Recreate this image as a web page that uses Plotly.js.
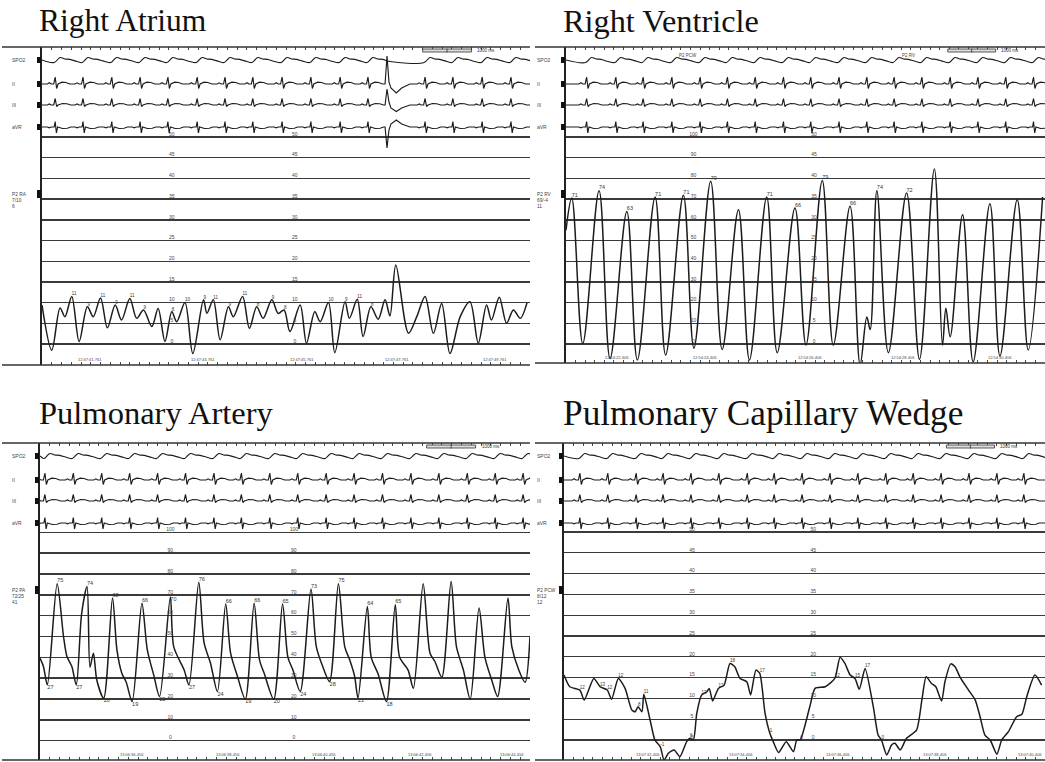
<!DOCTYPE html>
<html><head><meta charset="utf-8">
<script src="https://cdn.plot.ly/plotly-3.0.1.min.js"></script>
<style>html,body{margin:0;padding:0;background:#fff}#chart{width:1045px;height:762px}</style>
</head><body><div id="chart"></div>
<script>
// ================= DATA =================
const panelTitles = ["Right Atrium", "Right Ventricle", "Pulmonary Artery", "Pulmonary Capillary Wedge"];
const leadNames = ["SPO2", "II", "III", "aVR"];
const channelLabels = ["P2 RA<br>7/10<br>6", "P2 RV<br>69/-4<br>11", "P2 PA<br>72/25<br>41", "P2 PCW<br>8/12<br>12"];

// Pressure waveforms: time (s) and pressure (mmHg)
const raT = [0.00,0.20,0.37,0.47,0.61,0.76,0.93,1.05,1.20,1.34,1.50,1.63,1.80,1.94,2.08,2.25,2.38,2.52,2.66,2.76,2.93,3.09,3.31,3.38,3.51,3.65,3.82,3.92,4.11,4.25,4.40,4.53,4.71,4.84,4.96,5.08,5.29,5.42,5.59,5.70,5.87,6.00,6.21,6.30,6.46,6.58,6.74,6.89,7.03,7.13,7.25,7.51,7.68,7.85,8.02,8.19,8.36,8.57,8.77,8.94,9.11,9.21,9.37,9.52,9.66,9.80,9.94];
const raP = [9.4,-1.5,8.7,6.6,11.5,0.6,9,6.6,11.1,3.9,9.4,5.8,11,6.2,8.2,4.2,8.6,0.6,7.8,5.4,10,-2.3,10.7,7.4,10.7,1,9,6.6,11.5,3.8,9,6.2,10.7,7.4,8.2,3,9.4,0.2,7.8,5.4,10,-2.1,10.2,6.2,10.8,1.8,9,6,10.7,6.8,19.1,2.6,6.6,11.5,2.6,9.8,-2.3,6.6,10.2,0.2,9.4,5.8,11.3,5,8.2,6.2,10];

const rvT = [0.00,0.12,0.35,0.69,0.92,1.27,1.49,1.86,2.08,2.45,2.67,3.02,3.26,3.60,3.83,4.19,4.41,4.78,5.01,5.35,5.58,5.93,6.14,6.28,6.35,6.49,6.73,7.11,7.38,7.69,7.86,7.93,8.02,8.28,8.50,8.85,9.06,9.42,9.65,9.95];
const rvP = [55,70.5,0.3,74,-7,64,-7.7,71,-5.3,71.8,-2,78.6,-2.6,64.9,-7.7,71,-4.2,65.7,-0.5,79,-0.5,66.5,-10,13,7,74,-4.2,73,-7.4,84.6,-0.5,17.3,3.5,62.5,-8.6,67.8,-5.8,69.7,-2.9,71];

const paT = [0.00,0.07,0.15,0.35,0.48,0.55,0.65,0.74,0.85,0.96,1.02,1.09,1.16,1.30,1.48,1.57,1.67,1.76,1.88,2.08,2.19,2.32,2.44,2.66,2.73,2.94,3.04,3.24,3.35,3.48,3.62,3.79,3.89,4.03,4.19,4.37,4.48,4.58,4.77,4.95,5.06,5.16,5.31,5.53,5.64,5.77,5.91,6.09,6.22,6.32,6.42,6.49,6.68,6.76,6.90,7.07,7.25,7.34,7.51,7.62,7.82,7.96,8.06,8.20,8.39,8.50,8.64,8.78,8.96,9.08,9.22,9.34,9.55,9.63,9.77,9.90,10.0];
const paP = [39.6,35.6,26.8,75.3,50,40.4,35.6,26.8,61,74,35.3,42,29,20.4,68.5,43.6,32.4,28,18.8,66,43.6,31.6,21.2,69,45,34,26.8,76,46.8,37.2,23.6,65.6,42,30.8,19.9,66,38.8,32,19.9,65.6,40,34,23.6,72.8,45,35.6,28.4,75.3,45,38.8,31,20.4,64.4,40,32,18.8,65.2,40,34,25.2,75.3,42,38,30.5,76.4,45,34,19.9,63.7,40,29,21.2,68.5,45,34,28,50];

const pcwT = [0.00,0.12,0.33,0.42,0.62,0.75,0.90,0.99,1.13,1.27,1.41,1.48,1.54,1.62,1.66,1.79,1.89,2.00,2.08,2.17,2.29,2.41,2.55,2.62,2.69,2.76,2.86,2.97,3.02,3.09,3.21,3.33,3.45,3.55,3.66,3.80,3.88,3.99,4.07,4.18,4.28,4.35,4.46,4.62,4.77,4.84,4.91,5.11,5.22,5.43,5.63,5.74,5.84,5.95,6.05,6.14,6.26,6.43,6.53,6.60,6.71,6.81,6.88,6.99,7.12,7.33,7.44,7.53,7.64,7.73,7.85,7.92,8.04,8.13,8.23,8.41,8.55,8.65,8.75,8.86,9.00,9.10,9.24,9.41,9.52,9.62,9.79,9.93];
const pcwP = [15.6,12.8,12,9.6,14.8,12.8,12,9.8,14.8,12.4,7.2,6.8,8,6.8,11,4.8,0,-1.6,-4.8,-3.2,-2.4,-4,-0.4,0.4,0,6.4,10.8,11.6,12.4,9.4,12.4,13.2,18.4,17.6,14.8,14,10.8,16.8,16,6.4,1.6,-0.4,-3,-0.4,-2.8,0,0,8,12.4,12.8,14.8,19.9,18.4,15.6,14.8,12.2,17.2,8,1.2,0,-3.6,-1.2,-0.8,-2.4,0.4,2.4,9.6,15.2,13.6,12.8,9.4,14,18.3,17.6,15.2,12,9.6,5.6,1.2,0,-3.4,0,2,5.6,6.2,10.4,15.6,13.2];

// ECG beat (QRS) times (s)
const raBeats  = [0.27,0.84,1.43,2.01,2.58,3.18,3.75,4.32,4.92,5.51,6.11,6.68,7.85,8.42,9.02,9.61];
const raPvcBeats = [7.07];
const rvBeats  = [0.43,1.04,1.61,2.21,2.80,3.37,3.95,4.54,5.11,5.70,6.28,6.85,7.43,8.02,8.60,9.18,9.76];
const paBeats  = [0.10,0.68,1.26,1.83,2.40,2.97,3.55,4.11,4.69,5.26,5.84,6.41,6.99,7.57,8.14,8.72,9.29,9.86];
const pcwBeats = [0.33,0.91,1.50,2.06,2.64,3.22,3.81,4.37,4.95,5.53,6.11,6.69,7.26,7.84,8.42,9.00,9.56];

// Beat morphology read from the strips (time from QRS in s, deflection)
const spo2Dt  = [-0.02, 0.10, 0.20, 0.30, 0.45];
const spo2Amp = [-2.5, 2.5, 1.0, 0.6, -1.5];
const iiDt  = [-0.16,-0.12,-0.08,-0.03,0.00,0.03,0.06,0.14,0.22,0.30];
const iiAmp = [0, 1.2, 0, 0, 7, -4.5, 0, 1.8, 1.5, 0];
const iiiDt  = [-0.16,-0.12,-0.08,-0.03,0.00,0.03,0.06,0.15,0.24,0.32];
const iiiAmp = [0, 1, 0, 0, 6.5, -1.5, 0, 1.5, 1.2, 0];
const avrDt  = [-0.16,-0.12,-0.08,-0.02,0.00,0.025,0.05,0.15,0.25,0.32];
const avrAmp = [0, -0.8, 0, 0, 5.5, -6, 0, -1.5, -1.2, 0];
const pvcDt     = [-0.04, 0.00, 0.04, 0.08, 0.19, 0.30, 0.47];
const pvcIIAmp  = [0, 28, 2, -4, -9, -4, 0];
const pvcIIIAmp = [0, 16, 3, -3, -6.5, -3, 0];
const pvcAvrAmp = [0, -21, -3, 3, 7, 3, 0];

// Scale (grid) values and the two printed label columns
const scale50  = [0,5,10,15,20,25,30,35,40,45,50];
const scale100 = [0,10,20,30,40,50,60,70,80,90,100];
const scaleLabelT = [2.66, 5.18];

// Printed peak / trough values
const raPeakText   = ["","11","9","11","9","11","9","","8","10","9","11","9","11","8","9","8","","","10","9","11","8"];
const rvPeakText   = ["71","74","63","71","71","79","","71","66","79","66","74","72"];
const paPeakText   = ["75","74","68","66","70","76","66","66","65","73","75","64","65"];
const paTroughText = ["27","27","20","19","22","27","24","19","20","24","28","21","18"];
const pcwMarkIdx   = [2,5,6,8,12,14,17,23,26,30,32,38,40,46,50,54,56,59];
const pcwMarkText  = ["12","13","12","12","8","11","-1","6","13","13","18","17","1","0","12","15","17","0"];

// Time-stamp labels on the bottom rulers
const raTimeT  = [0.98,3.30,5.32,7.27,9.28];
const raTimeText  = ["12:47:41.761","12:47:43.761","12:47:45.761","12:47:47.761","12:47:49.761"];
const rvTimeT  = [1.06,2.90,5.09,7.04,9.06];
const rvTimeText  = ["12:54:22.406","12:54:24.406","12:54:26.406","12:54:28.406","12:54:30.406"];
const paTimeT  = [1.88,3.83,5.80,7.75,9.63];
const paTimeText  = ["13:06:36.456","13:06:38.456","13:06:40.456","13:06:42.456","13:06:44.456"];
const pcwTimeT = [1.75,3.69,5.70,7.71,9.69];
const pcwTimeText = ["13:07:32.406","13:07:34.406","13:07:36.406","13:07:38.406","13:07:40.406"];

// ================= LAYOUT GEOMETRY (pixels) =================
const W = 1045, H = 762;
const geo = [
  {left:42,  right:530,  top:47,  bottom:365, gridTop:137,   zero:344,   frameLeft:2,   labelX:10,  titleX:37,  titleY:21,  titleSize:31.5, bar:7.80},
  {left:566, right:1045, top:47,  bottom:363, gridTop:137,   zero:344,   frameLeft:535, labelX:535, titleX:561, titleY:21,  titleSize:32.3, bar:7.97},
  {left:40,  right:530,  top:443, bottom:760, gridTop:532.3, zero:740.7, frameLeft:2,   labelX:10,  titleX:37,  titleY:413, titleSize:32.5, bar:7.89},
  {left:564, right:1045, top:443, bottom:760, gridTop:532,   zero:740,   frameLeft:535, labelX:535, titleX:561, titleY:413, titleSize:35.3, bar:7.95}
];
const laneOff = [13, 37, 58, 80];
const INK = '#1c1c1c';
const px = v => v / W;
const py = v => 1 - v / H;

function buildLane(beats, dt, amp, extraBeats, extraDt, extraAmp) {
  const ev = beats.map(b => ({b, dt, amp}));
  if (extraBeats) extraBeats.forEach(b => ev.push({b, dt: extraDt, amp: extraAmp}));
  ev.sort((a, c) => a.b - c.b);
  const x = [], y = [];
  ev.forEach(e => e.dt.forEach((d, i) => { x.push(+(e.b + d).toFixed(3)); y.push(e.amp[i]); }));
  if (x[0] > 0) { x.unshift(0); y.unshift(0); }
  if (x[x.length - 1] < 10) { x.push(10); y.push(0); }
  return {x, y};
}
function extrema(t, p, isPeak, thr, texts) {
  const xs = [], ys = [], tx = [];
  let k = 0;
  for (let i = 1; i < p.length - 1 && k < texts.length; i++) {
    const ok = isPeak ? (p[i] > p[i-1] && p[i] > p[i+1] && p[i] > thr)
                      : (p[i] < p[i-1] && p[i] < p[i+1] && p[i] < thr);
    if (ok) { if (texts[k]) { xs.push(t[i]); ys.push(p[i]); tx.push(texts[k]); } k++; }
  }
  return {xs, ys, tx};
}

const panelData = [
  {t: raT,  p: raP,  beats: raBeats,  pvc: raPvcBeats, scale: scale50,  lab1: scale50,  lab2: scale50,  smooth: 0.9, time: [raTimeT, raTimeText]},
  {t: rvT,  p: rvP,  beats: rvBeats,  pvc: null, scale: scale100, lab1: scale100, lab2: scale50,  smooth: 1.0, time: [rvTimeT, rvTimeText]},
  {t: paT,  p: paP,  beats: paBeats,  pvc: null, scale: scale100, lab1: scale100, lab2: scale100, smooth: 0.8, time: [paTimeT, paTimeText]},
  {t: pcwT, p: pcwP, beats: pcwBeats, pvc: null, scale: scale50,  lab1: scale50,  lab2: scale50,  smooth: 0.6, time: [pcwTimeT, pcwTimeText]}
];

const traces = [], shapes = [], annotations = [];
const layout = {
  width: W, height: H, margin: {l:0, r:0, t:0, b:0},
  paper_bgcolor: '#fff', plot_bgcolor: 'rgba(0,0,0,0)', showlegend: false,
  font: {family: 'Liberation Sans, Arial, sans-serif', color: '#333'}
};
const smallFont = {family: 'Liberation Sans, Arial, sans-serif', size: 5, color: '#444'};

geo.forEach((g, i) => {
  const n = i + 1;
  const xa = 'x' + (n === 1 ? '' : n), ya = 'y' + (n === 1 ? '' : n), ye = 'y' + (n + 4);
  const d = panelData[i];
  const smax = d.scale[d.scale.length - 1];
  const ppu = (g.zero - g.gridTop) / smax;
  const dom = [py(g.bottom), py(g.top)];

  layout['xaxis' + (n === 1 ? '' : n)] = {
    domain: [px(g.left), px(g.right)], range: [0, 10], anchor: ya,
    showgrid: false, zeroline: false, showline: false, showticklabels: false,
    ticks: 'inside', ticklen: 3, tickwidth: 1, tickcolor: '#444', tick0: 0, dtick: 0.2, mirror: 'ticks', fixedrange: true
  };
  layout['yaxis' + (n === 1 ? '' : n)] = {
    domain: dom, anchor: xa,
    range: [-(g.bottom - g.zero) / ppu, (g.zero - g.top) / ppu],
    tickmode: 'array', tickvals: d.scale, showgrid: true, gridcolor: '#3a3a3a', gridwidth: 1.4,
    showline: true, linecolor: '#222', linewidth: 2, ticks: '', showticklabels: false, zeroline: false, fixedrange: true
  };
  layout['yaxis' + (n + 4)] = {domain: dom, anchor: xa, range: [-(g.bottom - g.top), 0], visible: false, fixedrange: true};

  // pressure waveform
  traces.push({type: 'scatter', mode: 'lines', x: d.t, y: d.p, xaxis: xa, yaxis: ya,
    line: {color: INK, width: 1.5, shape: 'spline', smoothing: d.smooth}, hoverinfo: 'skip'});

  // ECG / SPO2 lanes
  const lanes = [
    buildLane(d.beats, spo2Dt, spo2Amp),
    buildLane(d.beats, iiDt, iiAmp, d.pvc, pvcDt, pvcIIAmp),
    buildLane(d.beats, iiiDt, iiiAmp, d.pvc, pvcDt, pvcIIIAmp),
    buildLane(d.beats, avrDt, avrAmp, d.pvc, pvcDt, pvcAvrAmp)
  ];
  lanes.forEach((ln, k) => {
    traces.push({type: 'scatter', mode: 'lines', x: ln.x, y: ln.y.map(v => v - laneOff[k]), xaxis: xa, yaxis: ye,
      line: {color: INK, width: 1.15, shape: k === 0 ? 'spline' : 'linear', smoothing: 1}, hoverinfo: 'skip'});
  });

  // scale labels (two columns)
  [d.lab1, d.lab2].forEach((labs, c) => {
    traces.push({type: 'scatter', mode: 'text', x: d.scale.map(() => scaleLabelT[c]), y: d.scale,
      text: labs.map(String), textposition: 'top center', textfont: smallFont, cliponaxis: false,
      xaxis: xa, yaxis: ya, hoverinfo: 'skip'});
  });

  // frame lines
  shapes.push({type: 'line', xref: 'paper', yref: 'paper', x0: px(g.frameLeft), x1: px(g.right), y0: py(g.top), y1: py(g.top), line: {color: '#333', width: 1.6}});
  shapes.push({type: 'line', xref: 'paper', yref: 'paper', x0: px(g.frameLeft), x1: px(g.right), y0: py(g.bottom), y1: py(g.bottom), line: {color: '#333', width: 1.6}});

  // lane labels and markers
  leadNames.forEach((nm, k) => {
    const yy = g.top + laneOff[k];
    annotations.push({text: nm, xref: 'paper', yref: 'paper', x: px(g.labelX), y: py(yy), xanchor: 'left', yanchor: 'middle', showarrow: false, font: smallFont});
    shapes.push({type: 'rect', xref: 'paper', yref: 'paper', x0: px(g.left - 5), x1: px(g.left - 1), y0: py(yy - 3), y1: py(yy + 3), fillcolor: '#111', line: {width: 0}});
  });
  // channel label + marker
  annotations.push({text: channelLabels[i], xref: 'paper', yref: 'paper', x: px(g.labelX), y: py(g.top + 143), xanchor: 'left', yanchor: 'top', align: 'left', showarrow: false, font: {family: smallFont.family, size: 4.8, color: '#444'}});
  shapes.push({type: 'rect', xref: 'paper', yref: 'paper', x0: px(g.left - 5), x1: px(g.left - 1), y0: py(g.top + 143), y1: py(g.top + 151), fillcolor: '#111', line: {width: 0}});

  // title
  annotations.push({text: panelTitles[i], xref: 'paper', yref: 'paper', x: px(g.titleX), y: py(g.titleY), xanchor: 'left', yanchor: 'middle', showarrow: false,
    font: {family: 'Liberation Serif, Times New Roman, serif', size: g.titleSize, color: '#111'}});

  // 1000 ms bar
  shapes.push({type: 'rect', xref: xa, yref: 'paper', x0: g.bar, x1: g.bar + 1, y0: py(g.top + 2), y1: py(g.top + 5), fillcolor: '#ddd', line: {color: '#333', width: 0.8}});
  shapes.push({type: 'line', xref: xa, yref: 'paper', x0: g.bar + 0.5, x1: g.bar + 0.5, y0: py(g.top + 1.5), y1: py(g.top + 5.5), line: {color: '#333', width: 0.8}});
  annotations.push({text: '1000 ms', xref: xa, yref: 'paper', x: g.bar + 1.08, y: py(g.top + 4), xanchor: 'left', yanchor: 'middle', showarrow: false, font: {family: smallFont.family, size: 4.5, color: '#333'}});

  // time stamps
  d.time[0].forEach((tt, k) => {
    annotations.push({text: d.time[1][k], xref: xa, yref: 'paper', x: tt, y: py(g.bottom - 1), xanchor: 'center', yanchor: 'bottom', showarrow: false, font: {family: smallFont.family, size: 4, color: '#444'}});
  });
});

// peak / trough value labels
function addLabels(ex, axisN, pos, size) {
  const xa = 'x' + (axisN === 1 ? '' : axisN), ya = 'y' + (axisN === 1 ? '' : axisN);
  traces.push({type: 'scatter', mode: 'text', x: ex.xs, y: ex.ys, text: ex.tx, textposition: pos,
    textfont: {family: smallFont.family, size: size || 5.5, color: '#333'}, cliponaxis: false, xaxis: xa, yaxis: ya, hoverinfo: 'skip'});
}
addLabels(extrema(raT, raP, true, 7, raPeakText), 1, 'top right', 4.5);
addLabels(extrema(rvT, rvP, true, 55, rvPeakText), 2, 'top right');
const paPk = extrema(paT, paP, true, 55, paPeakText);
// the 5th PA peak sits on the scale-label column: print its value below-right of the peak
addLabels(paPk, 3, paPk.tx.map((s, k) => k === 4 ? 'bottom right' : 'top right'));
addLabels(extrema(paT, paP, false, 30, paTroughText), 3, 'bottom right');
addLabels({xs: pcwMarkIdx.map(j => pcwT[j]), ys: pcwMarkIdx.map(j => pcwP[j]), tx: pcwMarkText}, 4, 'top right', 4.5);

// event marks on the RV strip
annotations.push({text: 'P2 PCW', xref: 'x2', yref: 'paper', x: 2.55, y: py(51), showarrow: false, font: {family: smallFont.family, size: 4.5, color: '#444'}});
annotations.push({text: 'P2 RV', xref: 'x2', yref: 'paper', x: 7.14, y: py(51), showarrow: false, font: {family: smallFont.family, size: 4.5, color: '#444'}});

layout.shapes = shapes;
layout.annotations = annotations;
Plotly.newPlot('chart', traces, layout, {staticPlot: true, displayModeBar: false});
</script>
</body></html>
